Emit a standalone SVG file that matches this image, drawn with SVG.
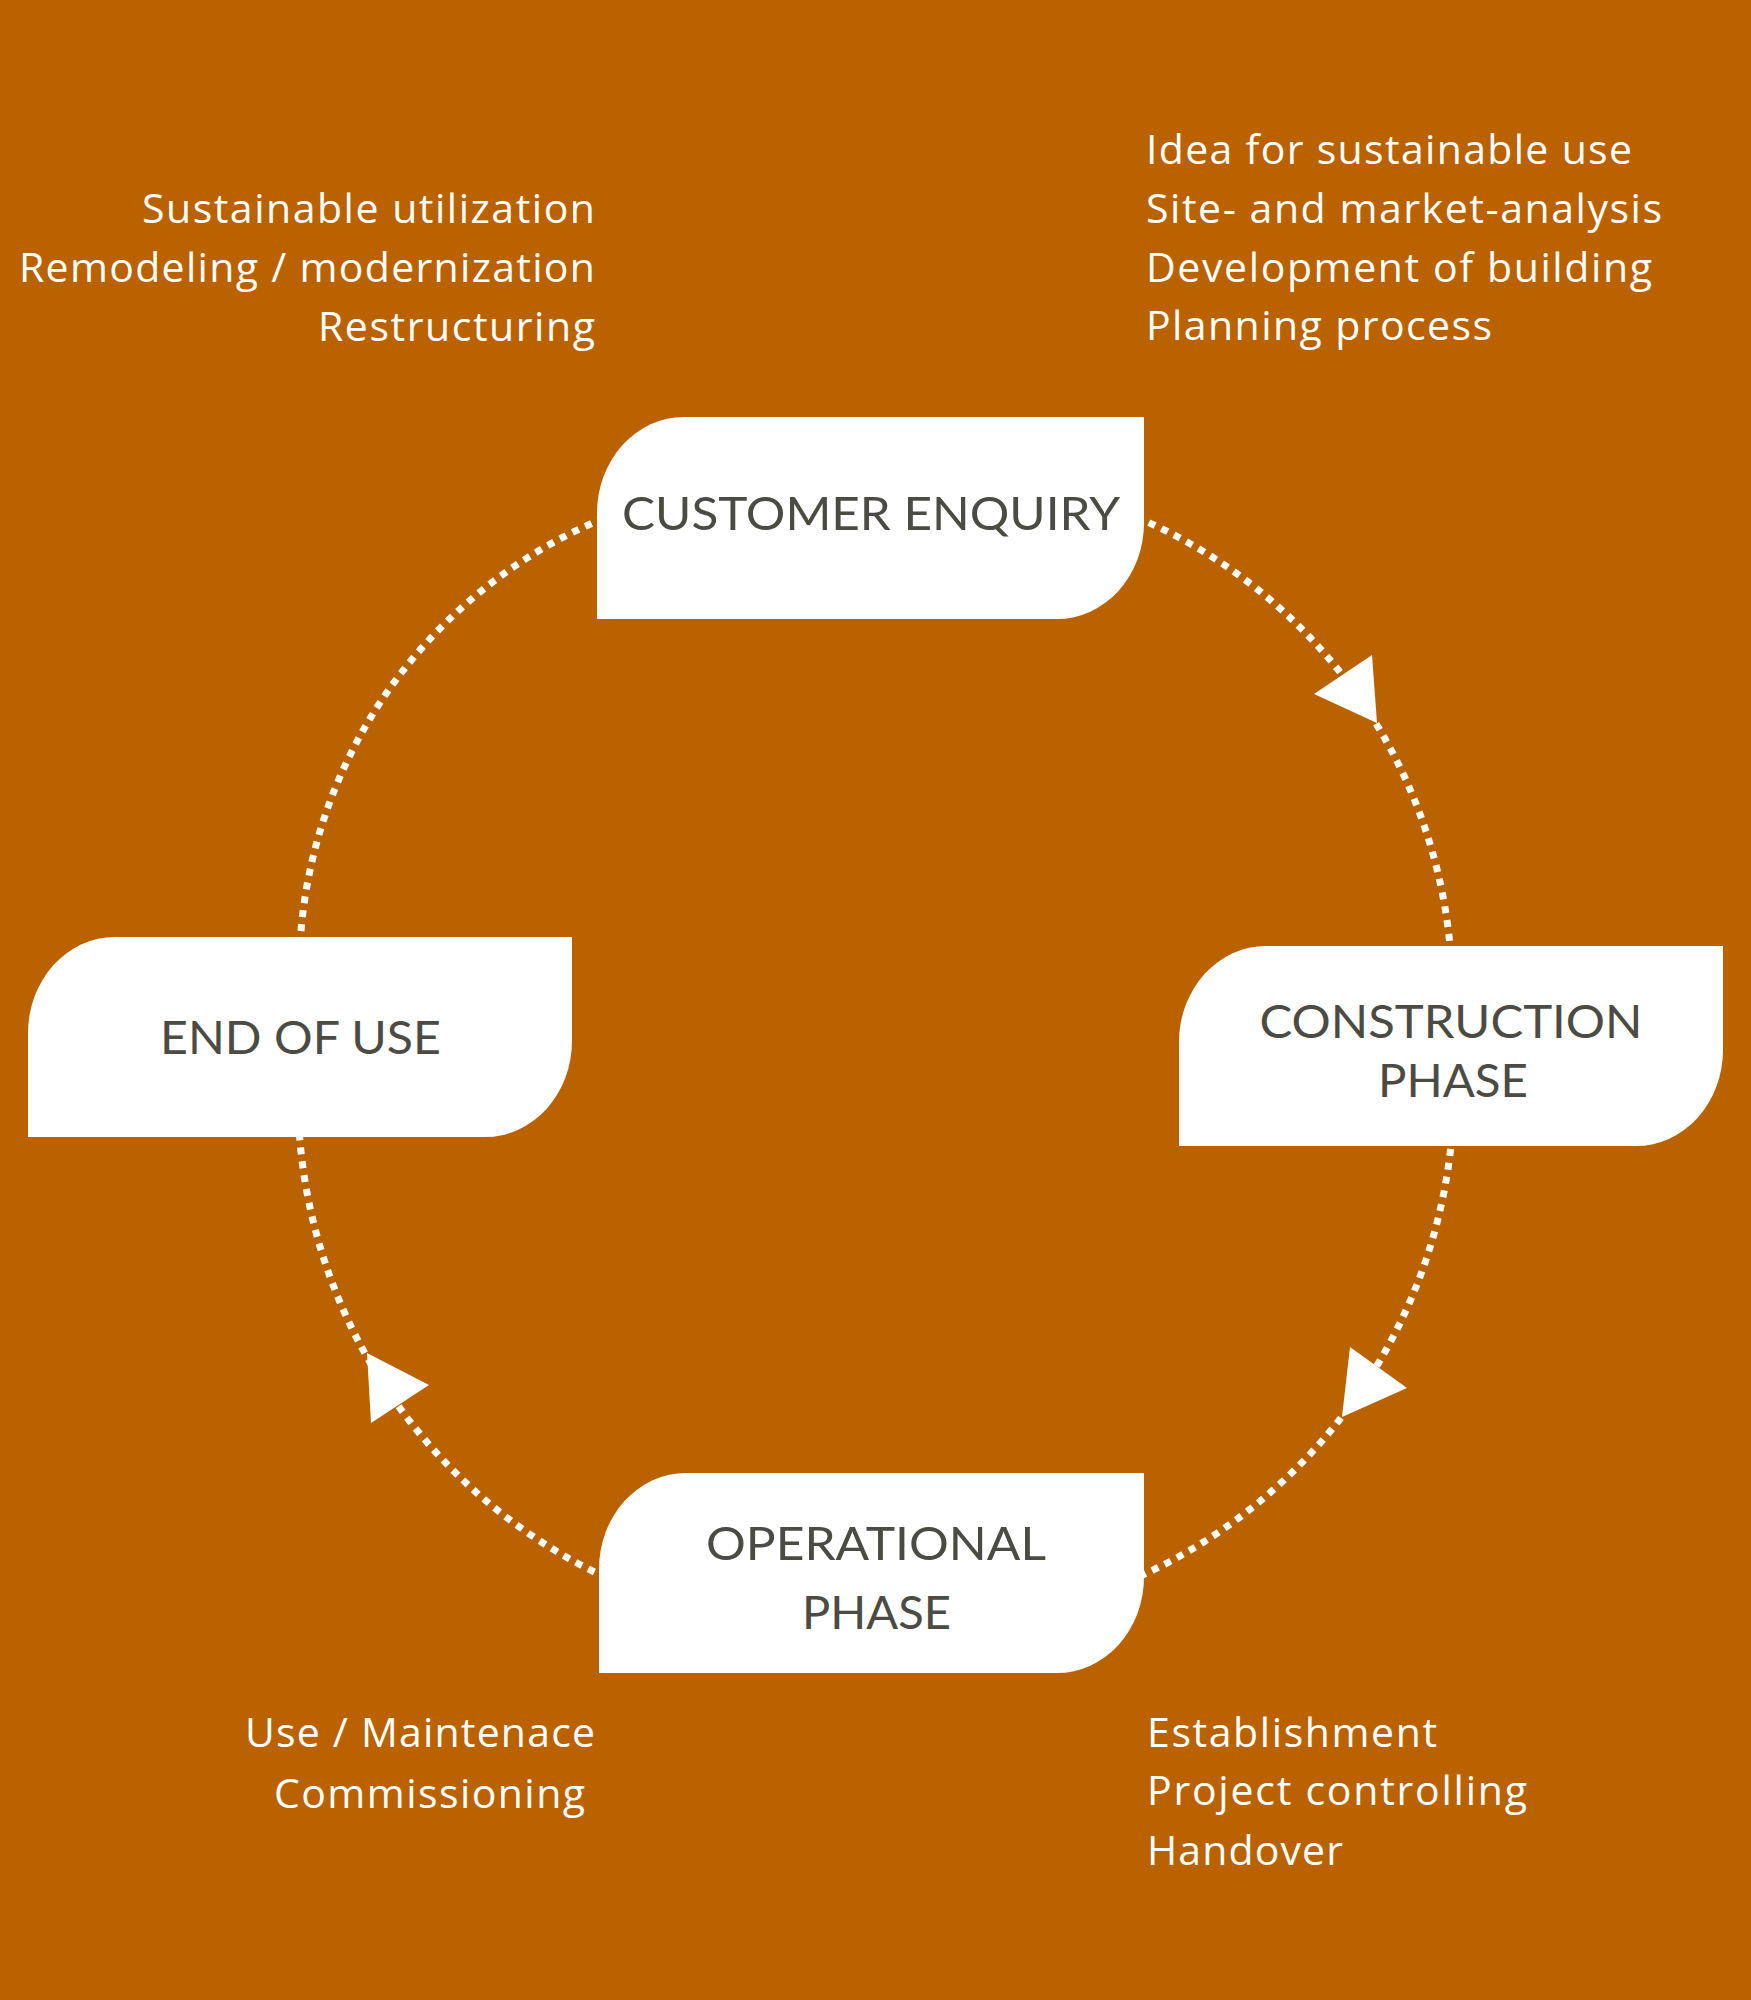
<svg xmlns="http://www.w3.org/2000/svg" width="1751" height="2000" viewBox="0 0 1751 2000">
<style>
.bg{fill:#BA6200}
.node{fill:#FFFFFF}
.ntext{font-family:Lato,"Open Sans","DejaVu Sans",sans-serif;font-size:47px;fill:#4B4B44;text-anchor:middle}
.side{font-family:"Open Sans","Noto Sans","DejaVu Sans",sans-serif;font-size:41px;fill:#FFFFFF}
.end{text-anchor:end}
.conn{fill:none;stroke:#FFFFFF;stroke-width:7;stroke-dasharray:7 7;stroke-linecap:butt}
.arrow{fill:#FFFFFF}
</style>
<rect class="bg" x="0" y="0" width="1751" height="2000"/>

<g id="connectors">
  <path class="conn" d="M1136,517 A518,518 0 0 1 1451,958"/>
  <path class="conn" d="M1452,1135 A535,535 0 0 1 1136,1578"/>
  <path class="conn" d="M607,1578 A532,532 0 0 1 299,1128"/>
  <path class="conn" d="M300,945 A491,491 0 0 1 607,517"/>
  <polygon class="arrow" points="1314,694 1372,655 1377,723"/>
  <polygon class="arrow" points="1350,1347 1407,1388 1342,1417"/>
  <polygon class="arrow" points="367,1353 429,1385 371,1423"/>
</g>

<g id="node-customer-enquiry">
  <path class="node" d="M684,417 H1144 V523 A87,96 0 0 1 1057,619 H597 V513 A87,96 0 0 1 684,417 Z"/>
  <text class="ntext" x="871" y="530" textLength="498" lengthAdjust="spacingAndGlyphs">CUSTOMER ENQUIRY</text>
</g>

<g id="node-construction-phase">
  <path class="node" d="M1266,946 H1723 V1050 A87,96 0 0 1 1636,1146 H1179 V1042 A87,96 0 0 1 1266,946 Z"/>
  <text class="ntext" x="1451" y="1038" textLength="383" lengthAdjust="spacingAndGlyphs">CONSTRUCTION</text>
  <text class="ntext" x="1453" y="1097" textLength="150" lengthAdjust="spacingAndGlyphs">PHASE</text>
</g>

<g id="node-operational-phase">
  <path class="node" d="M686,1473 H1144 V1577 A87,96 0 0 1 1057,1673 H599 V1569 A87,96 0 0 1 686,1473 Z"/>
  <text class="ntext" x="876" y="1560" textLength="340" lengthAdjust="spacingAndGlyphs">OPERATIONAL</text>
  <text class="ntext" x="876.5" y="1629" textLength="149" lengthAdjust="spacingAndGlyphs">PHASE</text>
</g>

<g id="node-end-of-use">
  <path class="node" d="M115,937 H572 V1041 A87,96 0 0 1 485,1137 H28 V1033 A87,96 0 0 1 115,937 Z"/>
  <text class="ntext" x="300.5" y="1054" textLength="281" lengthAdjust="spacingAndGlyphs">END OF USE</text>
</g>

<g id="notes-top-left">
  <text class="side end" x="595" y="223" textLength="453">Sustainable utilization</text>
  <text class="side end" x="595" y="282" textLength="576">Remodeling / modernization</text>
  <text class="side end" x="595" y="341" textLength="277">Restructuring</text>
</g>

<g id="notes-top-right">
  <text class="side" x="1146" y="164" textLength="486">Idea for sustainable use</text>
  <text class="side" x="1146" y="223" textLength="516">Site- and market-analysis</text>
  <text class="side" x="1146" y="282" textLength="506">Development of building</text>
  <text class="side" x="1146" y="340" textLength="346">Planning process</text>
</g>

<g id="notes-bottom-left">
  <text class="side end" x="595" y="1747" textLength="350">Use / Maintenace</text>
  <text class="side end" x="585" y="1808" textLength="311">Commissioning</text>
</g>

<g id="notes-bottom-right">
  <text class="side" x="1147" y="1747" textLength="290">Establishment</text>
  <text class="side" x="1147" y="1805" textLength="380">Project controlling</text>
  <text class="side" x="1147" y="1865" textLength="196">Handover</text>
</g>
</svg>
